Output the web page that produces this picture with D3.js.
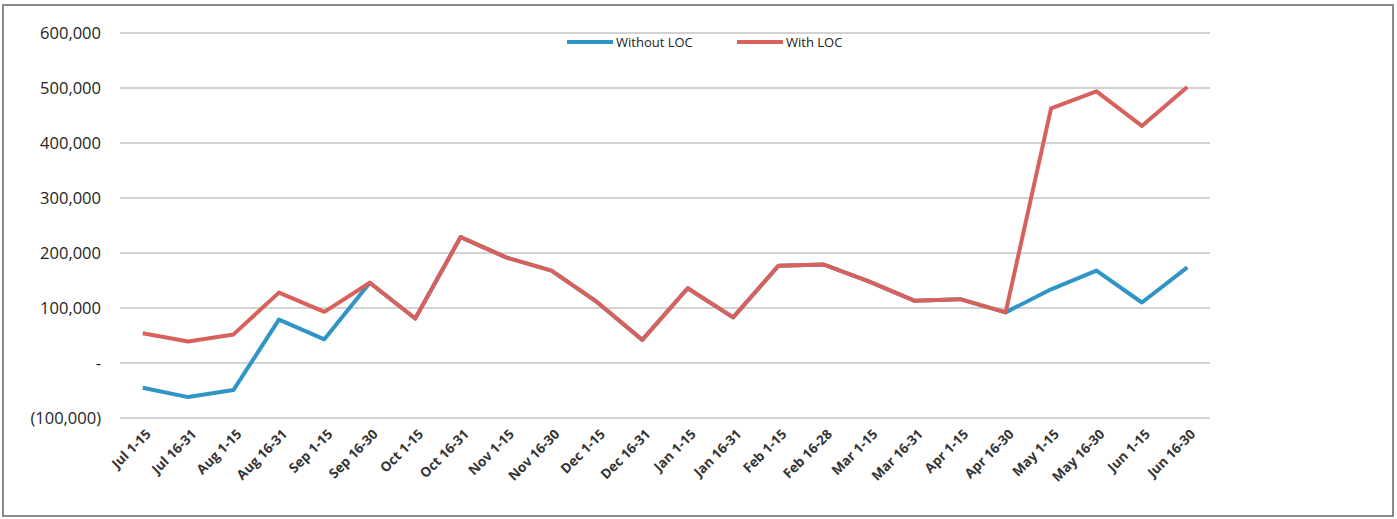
<!DOCTYPE html>
<html>
<head>
<meta charset="utf-8">
<script src="https://cdn.jsdelivr.net/npm/d3@7"></script>
<style>
  body { margin: 0; background: #fff; }
  text { font-family: "Open Sans", "Noto Sans", sans-serif; fill: #333; }
</style>
</head>
<body>
<div id="chart"></div>
<script>
// Half-month periods on the x axis
const periods = ["Jul 1-15", "Jul 16-31", "Aug 1-15", "Aug 16-31", "Sep 1-15", "Sep 16-30",
  "Oct 1-15", "Oct 16-31", "Nov 1-15", "Nov 16-30", "Dec 1-15", "Dec 16-31",
  "Jan 1-15", "Jan 16-31", "Feb 1-15", "Feb 16-28", "Mar 1-15", "Mar 16-31",
  "Apr 1-15", "Apr 16-30", "May 1-15", "May 16-30", "Jun  1-15", "Jun 16-30"];

const withoutLoc = [-45000, -62000, -49000, 79000, 43000, 146000,
  81000, 229000, 192000, 168000, 111000, 42000,
  136000, 83000, 177000, 179000, 148000, 113000,
  116000, 92000, 134000, 168000, 110000, 174000];

const withLoc = [54000, 39000, 52000, 128000, 93000, 146000,
  81000, 229000, 192000, 168000, 111000, 42000,
  136000, 83000, 177000, 179000, 148000, 113000,
  116000, 92000, 463000, 494000, 431000, 502000];

const yTicks = [-100000, 0, 100000, 200000, 300000, 400000, 500000, 600000];

const W = 1397, H = 519;
const margin = { top: 33, right: 187, bottom: 101, left: 120 };
const width = W - margin.left - margin.right;
const height = H - margin.top - margin.bottom;

const root = d3.select("#chart").append("svg")
  .attr("width", W)
  .attr("height", H);

// outer frame of the chart area
root.append("rect")
  .attr("x", 3).attr("y", 5)
  .attr("width", W - 7).attr("height", H - 8)
  .attr("fill", "none")
  .attr("stroke", "#8a8a8a")
  .attr("stroke-width", 2);

const svg = root.append("g")
  .attr("transform", `translate(${margin.left},${margin.top})`);

const x = d3.scaleBand().domain(periods).range([0, width]);
const y = d3.scaleLinear().domain([-100000, 600000]).range([height, 0]);

const fmt = v => v === 0 ? "-" : v < 0 ? `(${d3.format(",")(-v)})` : d3.format(",")(v);

// gridlines
svg.append("g")
  .selectAll("line")
  .data(yTicks)
  .join("line")
  .attr("x1", 0).attr("x2", width)
  .attr("y1", d => y(d)).attr("y2", d => y(d))
  .attr("stroke", "#c4c4c4")
  .attr("stroke-width", 1.5);

// y axis labels
const yAxis = svg.append("g")
  .call(d3.axisLeft(y).tickValues(yTicks).tickFormat(fmt).tickSize(0).tickPadding(19));
yAxis.select(".domain").remove();
yAxis.selectAll("text")
  .style("font-size", "16.5px")
  .style("fill", "#1e1e1e");

// x axis labels
const xAxis = svg.append("g")
  .attr("transform", `translate(0,${height})`)
  .call(d3.axisBottom(x).tickSize(0).tickPadding(0));
xAxis.select(".domain").remove();
xAxis.selectAll("text")
  .attr("text-anchor", "end")
  .attr("dx", 0)
  .attr("dy", 0)
  .attr("transform", "translate(9,17) rotate(-45)")
  .style("font-size", "13.5px")
  .style("font-weight", "700")
  .style("fill", "#333");

const line = d3.line()
  .x((d, i) => x(periods[i]) + x.bandwidth() / 2)
  .y(d => y(d));

const series = [
  { name: "Without LOC", values: withoutLoc, color: "#2f95c6" },
  { name: "With LOC", values: withLoc, color: "#d8615c" }
];

series.forEach(s => {
  svg.append("path")
    .datum(s.values)
    .attr("d", line)
    .attr("fill", "none")
    .attr("stroke", s.color)
    .attr("stroke-width", 4)
    .attr("stroke-linejoin", "round");
});

// legend
const legend = root.append("g").attr("transform", "translate(567,42)");
const legendX = [0, 170];
series.forEach((s, i) => {
  const g = legend.append("g").attr("transform", `translate(${legendX[i]},0)`);
  g.append("line")
    .attr("x1", 0).attr("x2", 46)
    .attr("stroke", s.color)
    .attr("stroke-width", 4);
  g.append("text")
    .attr("x", 49).attr("y", 5)
    .style("font-size", "13px")
    .style("fill", "#222")
    .text(s.name);
});
</script>
</body>
</html>
